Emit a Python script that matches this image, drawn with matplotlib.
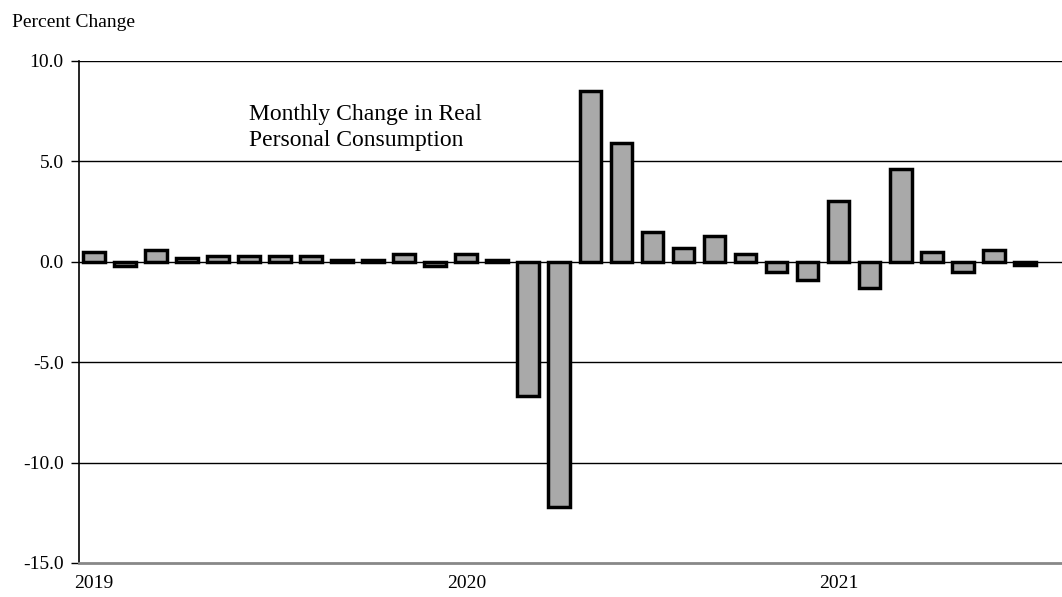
import matplotlib
matplotlib.use("Agg")
import matplotlib.pyplot as plt
import numpy as np

months = [f"{y}-{m:02d}" for y in (2019, 2020, 2021) for m in range(1, 13)][:31]
values = [0.5, -0.2, 0.6, 0.2, 0.3, 0.3, 0.3, 0.3, 0.1, 0.1, 0.4, -0.2,
          0.4, 0.1, -6.7, -12.2, 8.5, 5.9, 1.5, 0.7, 1.3, 0.4, -0.5, -0.9,
          3.0, -1.3, 4.6, 0.5, -0.5, 0.6, -0.15]
year_labels = ["2019", "2020", "2021"]
year_label_pos = [0, 12, 24]
yticks = [10.0, 5.0, 0.0, -5.0, -10.0, -15.0]

plt.rcParams['font.family'] = ['Liberation Serif', 'DejaVu Serif']

fig = plt.figure(figsize=(10.62, 5.97), dpi=100)
ax = fig.add_axes([0.0744, 0.057, 0.9256, 0.841])

x = np.arange(len(values))
ax.bar(x, values, width=0.7, color="#a9a9a9", edgecolor="black", linewidth=2.5, zorder=3)

ax.set_ylim(-15, 10)
ax.set_xlim(-0.48, 31.2)
ax.set_yticks(yticks)
ax.set_yticklabels([f"{v:.1f}" for v in yticks], fontsize=14)
for v in yticks[:-1]:
    ax.axhline(v, color="black", linewidth=1.0, zorder=1)

ax.set_xticks(year_label_pos)
ax.set_xticklabels(year_labels, fontsize=14)
ax.tick_params(axis='x', length=0, pad=9)
ax.tick_params(axis='y', length=6, width=1, direction='out', pad=5)

for s in ("top", "right"):
    ax.spines[s].set_visible(False)
ax.spines["left"].set_color("black")
ax.spines["left"].set_linewidth(1.2)
ax.spines["bottom"].set_color("#888888")
ax.spines["bottom"].set_linewidth(2.0)

ax.text(5.0, 6.7, "Monthly Change in Real\nPersonal Consumption", fontsize=17,
        va="center", ha="left", linespacing=1.3)
fig.text(0.011, 0.962, "Percent Change", fontsize=14, ha="left", va="center")

fig.savefig("out.png", dpi=100)
